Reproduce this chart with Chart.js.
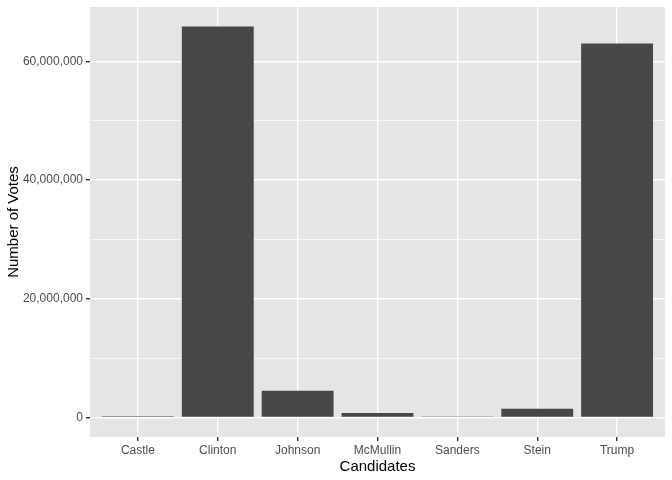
<!DOCTYPE html>
<html>
<head>
<meta charset="utf-8">
<script src="https://cdn.jsdelivr.net/npm/chart.js@4"></script>
<style>
html,body{margin:0;padding:0;background:#fff;}
#wrap{width:672px;height:480px;}
</style>
</head>
<body>
<div id="wrap"><canvas id="c" width="672" height="480"></canvas></div>
<script>
const categories = ["Castle", "Clinton", "Johnson", "McMullin", "Sanders", "Stein", "Trump"];
const votes = [203090, 65853514, 4489341, 731991, 111850, 1457218, 62984828];
const yTicks = [0, 10000000, 20000000, 30000000, 40000000, 50000000, 60000000];
const yLabelTicks = [0, 20000000, 40000000, 60000000];

const vmax = Math.max(...votes);
const yMin = -vmax * 0.05, yMax = vmax * 1.05;

const panelBg = {
  id: 'panelBg',
  beforeDraw(chart) {
    const {ctx, chartArea: a} = chart;
    ctx.save();
    ctx.fillStyle = '#fff';
    ctx.fillRect(0, 0, chart.width, chart.height);
    ctx.fillStyle = '#E5E5E5';
    ctx.fillRect(a.left, a.top, a.right - a.left, a.bottom - a.top);
    ctx.restore();
  }
};

const FONT = "'Liberation Sans', Arial, Helvetica, sans-serif";

new Chart(document.getElementById('c'), {
  type: 'bar',
  data: {
    datasets: [{
      data: categories.map((c, i) => ({x: i, y: votes[i]})),
      backgroundColor: '#474747',
      borderWidth: 0,
      minBarLength: 1,
      barPercentage: 0.9,
      categoryPercentage: 1.0
    }]
  },
  options: {
    responsive: false,
    animation: false,
    events: [],
    layout: {padding: {left: 0, right: 7, top: 7, bottom: 0}},
    plugins: {legend: {display: false}, tooltip: {enabled: false}},
    scales: {
      x: {
        type: 'linear',
        offset: false,
        min: -0.6, max: 6.6,
        afterBuildTicks(axis) { axis.ticks = categories.map((c, i) => ({value: i})); },
        afterFit(axis) { axis.height = 43; axis.paddingLeft = 0; axis.paddingRight = 0; },
        border: {display: false},
        grid: {offset: false, color: '#fff', lineWidth: 1.4, tickColor: '#333', tickLength: 4, drawTicks: true},
        ticks: {
          autoSkip: false, maxRotation: 0, padding: 2,
          color: '#4D4D4D', font: {family: FONT, size: 12},
          callback: (v) => categories[v]
        },
        title: {display: true, text: 'Candidates', color: '#000', font: {family: FONT, size: 15}, padding: {top: 2, bottom: 4}}
      },
      y: {
        type: 'linear',
        min: yMin, max: yMax,
        afterBuildTicks(axis) { axis.ticks = yTicks.map(v => ({value: v})); },
        afterFit(axis) { axis.width = 90; axis.paddingTop = 0; axis.paddingBottom = 0; },
        border: {display: false},
        grid: {
          color: '#fff',
          lineWidth: (ctx) => (ctx.tick && yLabelTicks.includes(ctx.tick.value)) ? 1.4 : 0.7,
          tickColor: (ctx) => (ctx.tick && yLabelTicks.includes(ctx.tick.value)) ? '#333' : 'rgba(0,0,0,0)',
          tickLength: 4
        },
        ticks: {
          padding: 3, color: '#4D4D4D', font: {family: FONT, size: 12},
          callback: (v) => yLabelTicks.includes(v) ? v.toLocaleString('en-US') : ''
        },
        title: {display: true, text: 'Number of Votes', color: '#000', font: {family: FONT, size: 15}, padding: {top: 5, bottom: 2}}
      }
    }
  },
  plugins: [panelBg]
});
</script>
</body>
</html>
